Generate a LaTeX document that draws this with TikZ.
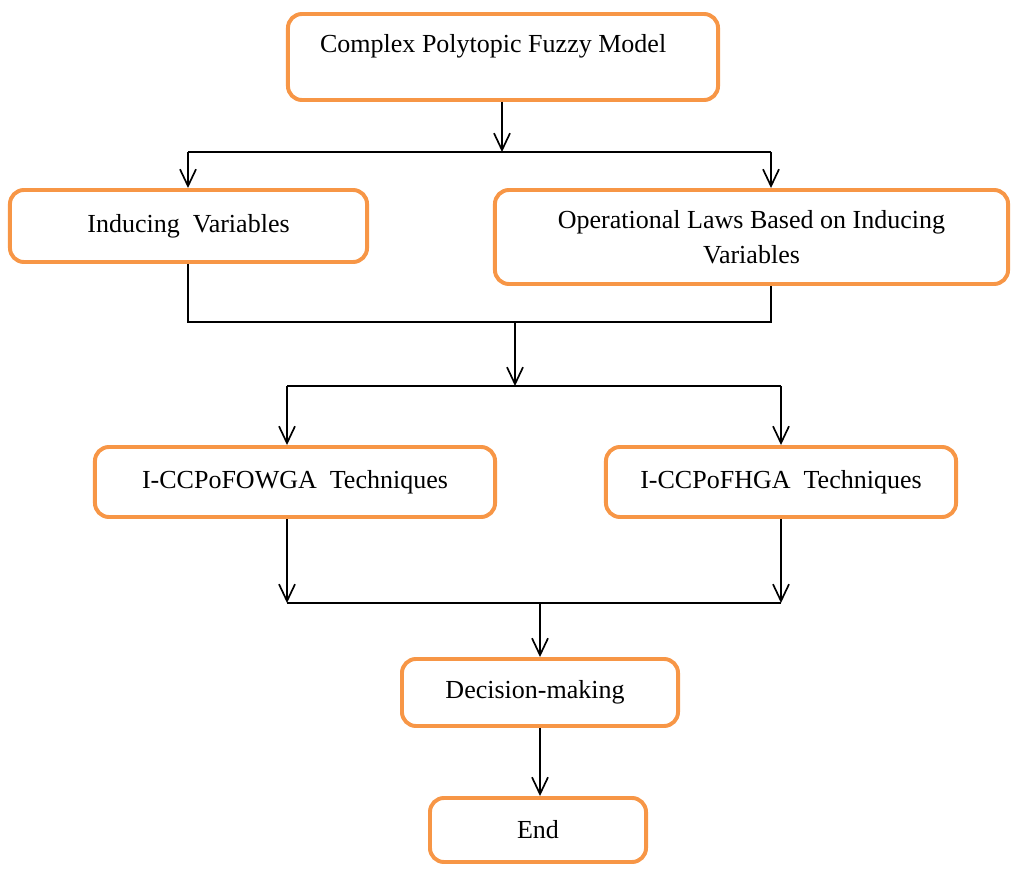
\documentclass[tikz,border=0pt]{standalone}
\usepackage{fontspec}
\setmainfont{Liberation Serif}
\usepackage{xcolor}
\usepackage{tikz}
\usetikzlibrary{positioning,arrows.meta,calc}
\definecolor{boxorange}{HTML}{F79646}

\begin{document}
\begin{tikzpicture}[x=0.025cm, y=-0.025cm,
    stage/.style={rectangle, rounded corners=3.5mm, draw=boxorange, line width=2.8pt, align=center, font=\fontsize{18.5}{25}\selectfont},
    arrow/.style={-{Straight Barb[length=4.2mm, width=4mm]}, line width=1.2pt},
    link/.style={line width=1.2pt},
]
\useasboundingbox (0,0) rectangle (1020,872);

% Stages
\node[stage, minimum width=10.75cm, minimum height=2.15cm, text height=12pt, text depth=18pt] (model) at (503,57) {Complex Polytopic Fuzzy Model\hspace*{14pt}};
\node[stage, minimum width=8.925cm, minimum height=1.8cm] (ind) at (188.5,226) {Inducing\ \ Variables};
\node[stage, minimum width=12.825cm, minimum height=2.35cm] (oper) at (751.5,237) {Operational Laws Based on Inducing\\Variables};
\node[stage, minimum width=10cm, minimum height=1.75cm] (owga) at (295,482) {I-CCPoFOWGA\ \ Techniques};
\node[stage, minimum width=8.75cm, minimum height=1.75cm] (fhga) at (781,482) {I-CCPoFHGA\ \ Techniques};
\node[stage, minimum width=6.9cm, minimum height=1.675cm] (dec) at (540,692.5) {Decision-making\hspace*{7pt}};
\node[stage, minimum width=5.4cm, minimum height=1.6cm] (endb) at (538,830) {End};

% Junctions
\coordinate (j1) at (502,152);
\coordinate (j1l) at (188,152);
\coordinate (j1r) at (771,152);
\coordinate (j2l) at (188,322);
\coordinate (j2r) at (771,322);
\coordinate (j2m) at (515,322);
\coordinate (j3m) at (515,386);
\coordinate (j3l) at (287,386);
\coordinate (j3r) at (781,386);
\coordinate (j4l) at (287,603);
\coordinate (j4r) at (781,603);
\coordinate (j4m) at (540,603);

% Model to the two branches
\draw[arrow] (model.south -| j1) -- (j1);
\draw[link] (j1l) -- (j1r);
\draw[arrow] (j1l) -- (ind.north -| j1l);
\draw[arrow] (j1r) -- (oper.north -| j1r);

% Branches join
\draw[link] (ind.south -| j2l) -- (j2l) -- (j2r) -- (oper.south -| j2r);
\draw[arrow] (j2m) -- (j3m);
\draw[link] (j3l) -- (j3r);
\draw[arrow] (j3l) -- (owga.north -| j3l);
\draw[arrow] (j3r) -- (fhga.north -| j3r);

% Techniques to decision
\draw[arrow] (owga.south -| j4l) -- (j4l);
\draw[arrow] (fhga.south -| j4r) -- (j4r);
\draw[link] (j4l) -- (j4r);
\draw[arrow] (j4m) -- (dec.north -| j4m);
\draw[arrow] (dec.south -| j4m) -- (endb.north -| j4m);
\end{tikzpicture}
\end{document}
